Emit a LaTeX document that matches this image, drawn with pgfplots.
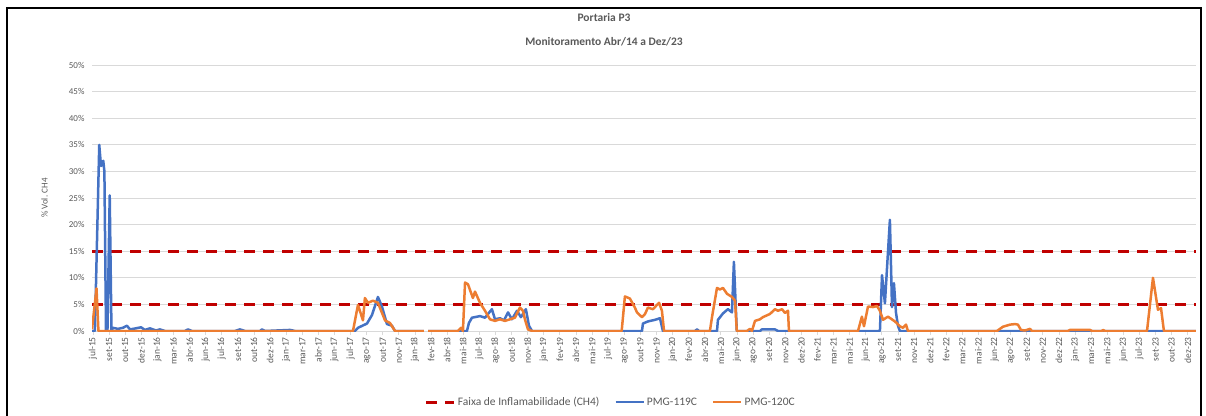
\documentclass[border=0pt]{standalone}
\usepackage{fontspec}
\setmainfont{Carlito}
\usepackage{pgfplots}
\pgfplotsset{compat=1.18}
\definecolor{blueS}{HTML}{4472C4}
\definecolor{orangeS}{HTML}{ED7D31}
\definecolor{redD}{HTML}{C00000}
\definecolor{txt}{HTML}{595959}
\definecolor{gridc}{HTML}{D9D9D9}
\begin{document}
\begin{tikzpicture}
\path[use as bounding box] (0pt,0pt) rectangle (1206pt,415pt);
\draw[line width=2pt,black] (7pt,-2pt) -- (7pt,407pt) -- (1201pt,407pt) -- (1201pt,-2pt);
\node[font=\fontsize{11.5}{14}\selectfont\bfseries, text=txt] at (604pt,397pt) {Portaria P3};
\node[font=\fontsize{11.5}{14}\selectfont\bfseries, text=txt] at (604pt,373pt) {Monitoramento Abr/14 a Dez/23};
\begin{axis}[
  at={(92pt,84pt)}, anchor=south west, scale only axis,
  width=1104pt, height=266pt,
  xmin=-0.06, xmax=68.51, ymin=0, ymax=50,
  axis line style={draw=none},
  ytick={0,5,...,50},
  yticklabels={0\%,5\%,10\%,15\%,20\%,25\%,30\%,35\%,40\%,45\%,50\%},
  ymajorgrids, grid style={gridc, line width=0.9pt},
  ytick style={draw=none},
  xtick={0,...,68},
  xticklabels={jul-15,set-15,out-15,dez-15,jan-16,mar-16,abr-16,jun-16,jul-16,set-16,out-16,dez-16,jan-17,mar-17,abr-17,jun-17,jul-17,ago-17,out-17,nov-17,jan-18,fev-18,abr-18,mai-18,jul-18,ago-18,out-18,nov-18,jan-19,fev-19,abr-19,mai-19,jul-19,ago-19,out-19,nov-19,jan-20,fev-20,abr-20,mai-20,jun-20,ago-20,set-20,nov-20,dez-20,fev-21,mar-21,mai-21,jun-21,ago-21,set-21,nov-21,dez-21,fev-22,mar-22,mai-22,jun-22,ago-22,set-22,nov-22,dez-22,jan-23,mar-23,mai-23,jun-23,jul-23,set-23,out-23,dez-23},
  xtick pos=bottom, tick align=outside, major tick length=4pt,
  xtick style={gridc, line width=0.9pt},
  x tick label style={rotate=90, anchor=east, font=\fontsize{9.5}{10}\selectfont, text=txt, inner sep=2pt},
  y tick label style={font=\fontsize{9}{10}\selectfont, text=txt},
  ylabel={\% Vol. CH4},
  ylabel style={at={(axis description cs:-0.043,0.5)}, anchor=center, font=\fontsize{9}{10}\selectfont, text=txt},
  unbounded coords=jump,
  legend style={at={(axis description cs:0.470,-0.267)}, anchor=center, legend columns=3, draw=none, fill=none,
    font=\fontsize{11.5}{12}\selectfont, text=txt,
    /tikz/every even column/.append style={column sep=13pt}},
  legend image code/.code={\draw[#1] (0pt,0pt) -- (28pt,0pt);},
]
\addplot[redD, line width=3pt, dash pattern=on 11pt off 8pt] coordinates {(-0.06,5) (68.51,5)};
\addlegendentry{Faixa de Inflamabilidade (CH4)}
\addplot[redD, line width=3pt, dash pattern=on 11pt off 8pt, forget plot] coordinates {(-0.06,15) (68.51,15)};
% PMG-119C
\addplot[blueS, line width=2.5pt, line join=round] coordinates {
(-0.06,0) (0.12,0) (0.39,35) (0.50,31) (0.64,32) (0.71,30) (0.81,0) (0.90,0) (1.04,25.5) (1.15,0)
(1.24,0.6) (1.55,0.4) (1.86,0.6) (2.11,1.0) (2.30,0.3) (2.67,0.5) (2.98,0.7) (3.23,0.2) (3.54,0.5) (3.91,0.1) (4.16,0.3) (4.47,0)
(5.71,0) (5.90,0.3) (6.15,0) (8.82,0) (9.13,0.3) (9.44,0) (10.37,0) (10.50,0.3) (10.68,0) (12.24,0.2) (12.55,0)
(16.27,0) (16.46,0.6) (17.02,1.4) (17.33,3.0) (17.70,6.4) (17.95,4.6) (18.26,1.3) (18.57,1.0) (18.76,0) (20.56,0)
(20.68,nan)
(20.81,0) (23.23,0) (23.35,1.5) (23.54,2.5) (24.04,2.8) (24.35,2.5) (24.78,4.1) (24.97,2.2) (25.28,2.4) (25.53,2.0) (25.78,3.5) (26.02,2.2) (26.34,3.8) (26.58,2.6) (26.89,4.1) (27.08,1.0) (27.27,0)
(34.10,0) (34.16,1.4) (34.47,1.8) (34.91,2.1) (35.22,2.4) (35.40,0)
(37.39,0) (37.52,0.3) (37.64,0)
(38.76,0) (38.82,2.1) (39.13,3.3) (39.44,4.1) (39.69,3.5) (39.81,13) (39.99,0)
(41.43,0) (41.55,0.3) (42.36,0.3) (42.55,0)
(48.88,0) (49.01,10.5) (49.19,5.2) (49.50,20.9) (49.63,4.5) (49.75,9.0) (49.88,3.4) (50.00,1.0) (50.12,0) (68.51,0)
};
\addlegendentry{PMG-119C}
% PMG-120C
\addplot[orangeS, line width=2.5pt, line join=round] coordinates {
(-0.06,0.3) (0.22,8.0) (0.34,0) (16.15,0) (16.46,4.9) (16.77,2.0) (16.89,6.2) (17.08,5.3) (17.39,5.7) (17.70,5.3) (18.14,2.0) (18.45,1.5) (18.76,0) (20.56,0)
(20.68,nan)
(20.81,0) (22.67,0) (22.86,0.6) (22.98,0) (23.11,9.1) (23.29,8.8) (23.60,6.2) (23.73,7.4) (24.04,5.3) (24.35,3.8) (24.66,2.2) (24.97,1.9) (25.28,2.2) (25.59,1.9) (25.90,2.2) (26.21,2.5) (26.52,4.4) (26.71,3.8) (26.83,2.2) (27.02,0.3) (27.27,0)
(32.84,0) (33.04,6.5) (33.35,6.1) (33.66,4.4) (33.79,3.5) (34.10,2.6) (34.29,3.2) (34.47,4.4) (34.78,4.1) (35.16,5.3) (35.34,3.8) (35.47,0)
(38.32,0) (38.45,2.6) (38.76,8.1) (38.94,7.8) (39.13,8.1) (39.38,7.0) (39.69,6.4) (39.88,5.7) (39.99,0)
(40.62,0) (40.81,0.4) (40.93,0) (41.12,1.9) (41.43,2.2) (41.61,2.6) (42.05,3.2) (42.36,4.1) (42.55,3.8) (42.80,4.1) (42.98,3.4) (43.17,3.8) (43.23,0)
(47.52,0) (47.76,2.7) (47.89,0.9) (48.14,4.6) (48.45,4.5) (48.70,4.7) (48.88,3.8) (49.07,2.1) (49.38,2.7) (49.81,1.8) (50.12,0.9) (50.31,0.6) (50.50,1.2) (50.62,0)
(56.15,0) (56.52,0.8) (56.96,1.2) (57.27,1.3) (57.45,1.2) (57.64,0.2) (57.89,0.1) (58.20,0.4) (58.32,0)
(60.56,0) (60.68,0.2) (61.93,0.2) (62.05,0) (62.67,0) (62.73,0.2) (62.86,0)
(65.47,0) (65.84,10.0) (66.15,4.0) (66.34,4.3) (66.52,0) (68.51,0)
};
\addlegendentry{PMG-120C}
\end{axis}
\end{tikzpicture}
\end{document}
